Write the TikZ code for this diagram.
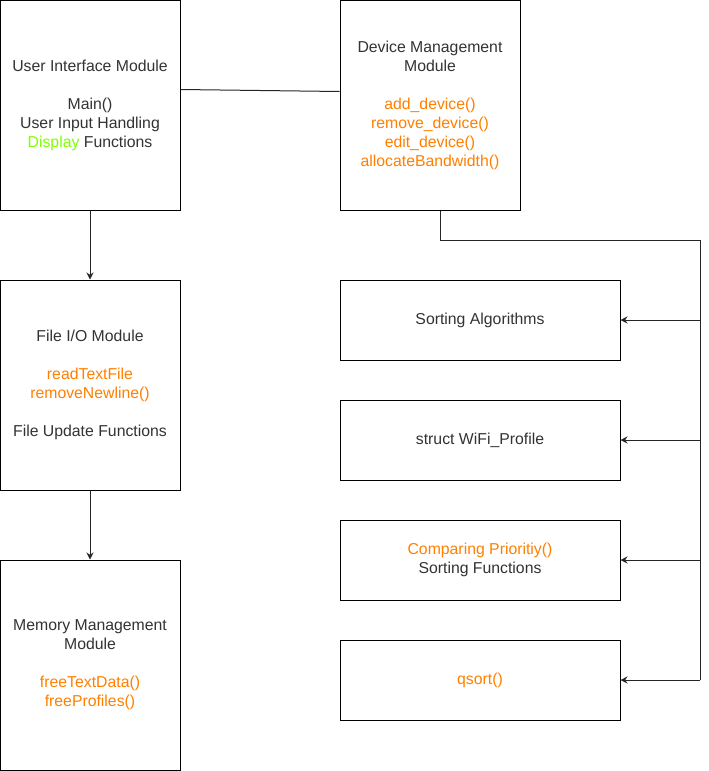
\documentclass[tikz,border=0pt]{standalone}
\usepackage{fontspec}
\setmainfont{Liberation Sans}
\usetikzlibrary{arrows.meta,calc}
\definecolor{txt}{HTML}{333333}
\definecolor{fn}{HTML}{FF8000}
\definecolor{gr}{HTML}{80FF00}
\begin{document}
\begin{tikzpicture}[x=1pt,y=-1pt,
  box/.style={draw=black,line width=1pt,fill=white,inner sep=0pt,align=center,text=txt,
    font=\fontsize{15.8}{19}\selectfont},
  bigbox/.style={box,minimum width=180pt,minimum height=210pt},
  widebox/.style={box,minimum width=280pt,minimum height=80pt},
  conn/.style={draw=black!85,line width=1pt},
  arr/.style={conn,-{Stealth[length=7pt,width=7pt]}}]
\path[use as bounding box] (0,0) rectangle (709,771);
\node[bigbox] (ui) at (90,105) {User Interface Module\\[19pt]Main()\\User Input Handling\\\textcolor{gr}{Display} Functions};
\node[bigbox] (dev) at (430,105) {Device Management\\Module\\[19pt]\textcolor{fn}{add\_device()}\\\textcolor{fn}{remove\_device()}\\\textcolor{fn}{edit\_device()}\\\textcolor{fn}{allocateBandwidth()}};
\node[bigbox] (fio) at (90,385) {File I/O Module\\[19pt]\textcolor{fn}{readTextFile}\\\textcolor{fn}{removeNewline()}\\[19pt]File Update Functions};
\node[bigbox] (mem) at (90,665) {Memory Management\\Module\\[19pt]\textcolor{fn}{freeTextData()}\\\textcolor{fn}{freeProfiles()}};
\node[widebox] (s1) at (480,320) {Sorting Algorithms};
\node[widebox] (s2) at (480,440) {struct WiFi\_Profile};
\node[widebox] (s3) at (480,560) {\textcolor{fn}{Comparing Prioritiy()}\\Sorting Functions};
\node[widebox] (s4) at (480,680) {\textcolor{fn}{qsort()}};
\coordinate (c1) at ($(ui.north east)+(0,90)$);
\coordinate (c2) at ($(dev.north west)+(0,92)$);
\draw[conn] (c1) -- (c2);
\draw[arr] (ui) -- (fio);
\draw[arr] (fio) -- (mem);
\coordinate (d0) at ($(dev.south)+(10,0)$);
\coordinate (b0) at (700,240);
\coordinate (b4) at (700,680);
\draw[conn] (d0) |- (b0) -- (b4);
\foreach \n in {s1,s2,s3,s4} {\draw[arr] (\n.east -| b0) -- (\n.east);}
\end{tikzpicture}
\end{document}
